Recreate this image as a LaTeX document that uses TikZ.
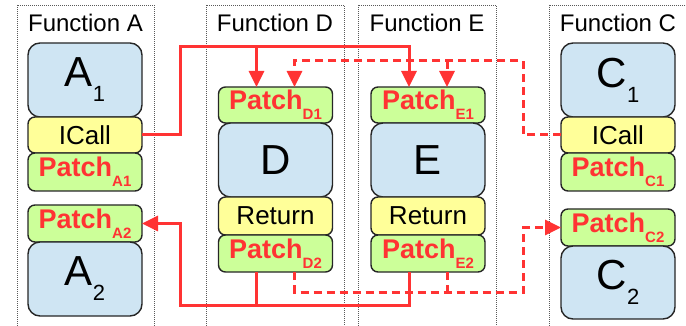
\documentclass[tikz,border=0pt]{standalone}
\usepackage{fontspec}
\setmainfont{Liberation Sans}
\usetikzlibrary{arrows.meta}

\definecolor{boxblue}{HTML}{CFE5F3}
\definecolor{boxyellow}{HTML}{FFFF99}
\definecolor{boxgreen}{HTML}{CCFF99}
\definecolor{linkred}{HTML}{FF3333}

% large label with a lowered index
\newcommand\bigsub[2]{#1\raisebox{-15pt}{\fontsize{22}{22}\selectfont #2}}
% patch label with a lowered bold index
\newcommand\patchsub[1]{Patch\raisebox{-10pt}{\fontsize{15}{15}\selectfont #1}}

\tikzset{
  block/.style={draw=black!85, line width=1.4pt, minimum width=114pt,
    inner sep=0pt, outer sep=0pt},
  body/.style={block, fill=boxblue, rounded corners=12pt, minimum height=74pt,
    font=\fontsize{42}{42}\selectfont},
  instr/.style={block, fill=boxyellow, rounded corners=7pt,
    font=\fontsize{26}{26}\selectfont},
  patch/.style={block, fill=boxgreen, rounded corners=7pt, text=linkred,
    font=\fontsize{27}{27}\selectfont\bfseries},
  frame/.style={draw=black!65, line width=0.6pt, dash pattern=on 1pt off 1pt},
  title/.style={font=\fontsize{24}{24}\selectfont, anchor=base, inner sep=0pt},
  link/.style={draw=linkred, line width=3pt},
  dlink/.style={link, dash pattern=on 8pt off 5pt},
  tip/.style={-{Triangle[length=16pt,width=15pt]}},
}

\begin{document}
\begin{tikzpicture}[x=1pt, y=-1pt]
\useasboundingbox (0,0) rectangle (686,326);
\clip (0,0) rectangle (686,326);

% function frames
\draw[frame] (17,5) rectangle (154,340);
\draw[frame] (206,5) rectangle (344,340);
\draw[frame] (358,5) rectangle (496,340);
\draw[frame] (549,5) rectangle (700,340);

\node[title] (tA) at (85.5,31.5) {Function A};
\node[title] (tD) at (275,31.5) {Function D};
\node[title] (tE) at (427,31.5) {Function E};
\node[title] (tC) at (618,31.5) {Function C};

% function A
\node[body] (A1) at (85,80) {\bigsub{A}{1}};
\node[instr, minimum height=36pt] (ICallA) at (85,135) {ICall};
\node[patch, minimum height=38pt] (PatchA1) at (85,172) {\patchsub{A1}};
\node[patch, minimum height=37pt] (PatchA2) at (85,223.5) {\patchsub{A2}};
\node[body] (A2) at (85,279) {\bigsub{A}{2}};

% function D
\node[patch, minimum height=36pt] (PatchD1) at (275.5,105) {\patchsub{D1}};
\node[body] (D) at (275.5,160) {D};
\node[instr, minimum height=38pt] (RetD) at (275.5,216) {Return};
\node[patch, minimum height=37pt] (PatchD2) at (275.5,253.5) {\patchsub{D2}};

% function E
\node[patch, minimum height=36pt] (PatchE1) at (428,105) {\patchsub{E1}};
\node[body] (E) at (428,160) {E};
\node[instr, minimum height=38pt] (RetE) at (428,216) {Return};
\node[patch, minimum height=37pt] (PatchE2) at (428,253.5) {\patchsub{E2}};

% function C
\node[body] (C1) at (618,80) {\bigsub{C}{1}};
\node[instr, minimum height=36pt] (ICallC) at (618,135) {ICall};
\node[patch, minimum height=38pt] (PatchC1) at (618,172) {\patchsub{C1}};
\node[patch, minimum height=37pt] (PatchC2) at (618,227.5) {\patchsub{C2}};
\node[body, minimum height=73pt] (C2) at (618,282.5) {\bigsub{C}{2}};

% rails and entry/exit points
\coordinate (railT) at (180,47);
\coordinate (railTd) at (523,61);
\coordinate (railB) at (180,305);
\coordinate (railBd) at (523,292);
\coordinate (d1s) at ([xshift=-19pt]PatchD1.north);
\coordinate (d1d) at ([xshift=19pt]PatchD1.north);
\coordinate (e1s) at ([xshift=-19pt]PatchE1.north);
\coordinate (e1d) at ([xshift=19pt]PatchE1.north);
\coordinate (d2s) at ([xshift=-19pt]PatchD2.south);
\coordinate (d2d) at ([xshift=19pt]PatchD2.south);
\coordinate (e2s) at ([xshift=-19pt]PatchE2.south);
\coordinate (e2d) at ([xshift=19pt]PatchE2.south);

% indirect call from A
\draw[link, tip] (ICallA.east) -| (railT) -| (e1s);
\draw[link, tip] (d1s |- railT) -- (d1s);
% indirect call from C
\draw[dlink, tip] (ICallC.west) -| (railTd) -| (d1d);
\draw[dlink, tip] (e1d |- railTd) -- (e1d);
% return to A
\draw[link, tip] (e2s) |- (railB) |- (PatchA2.east);
\draw[link] (d2s) -- (d2s |- railB);
% return to C
\draw[dlink, tip] (d2d) |- (railBd) |- (PatchC2.west);
\draw[dlink] (e2d) -- (e2d |- railBd);
\end{tikzpicture}
\end{document}
